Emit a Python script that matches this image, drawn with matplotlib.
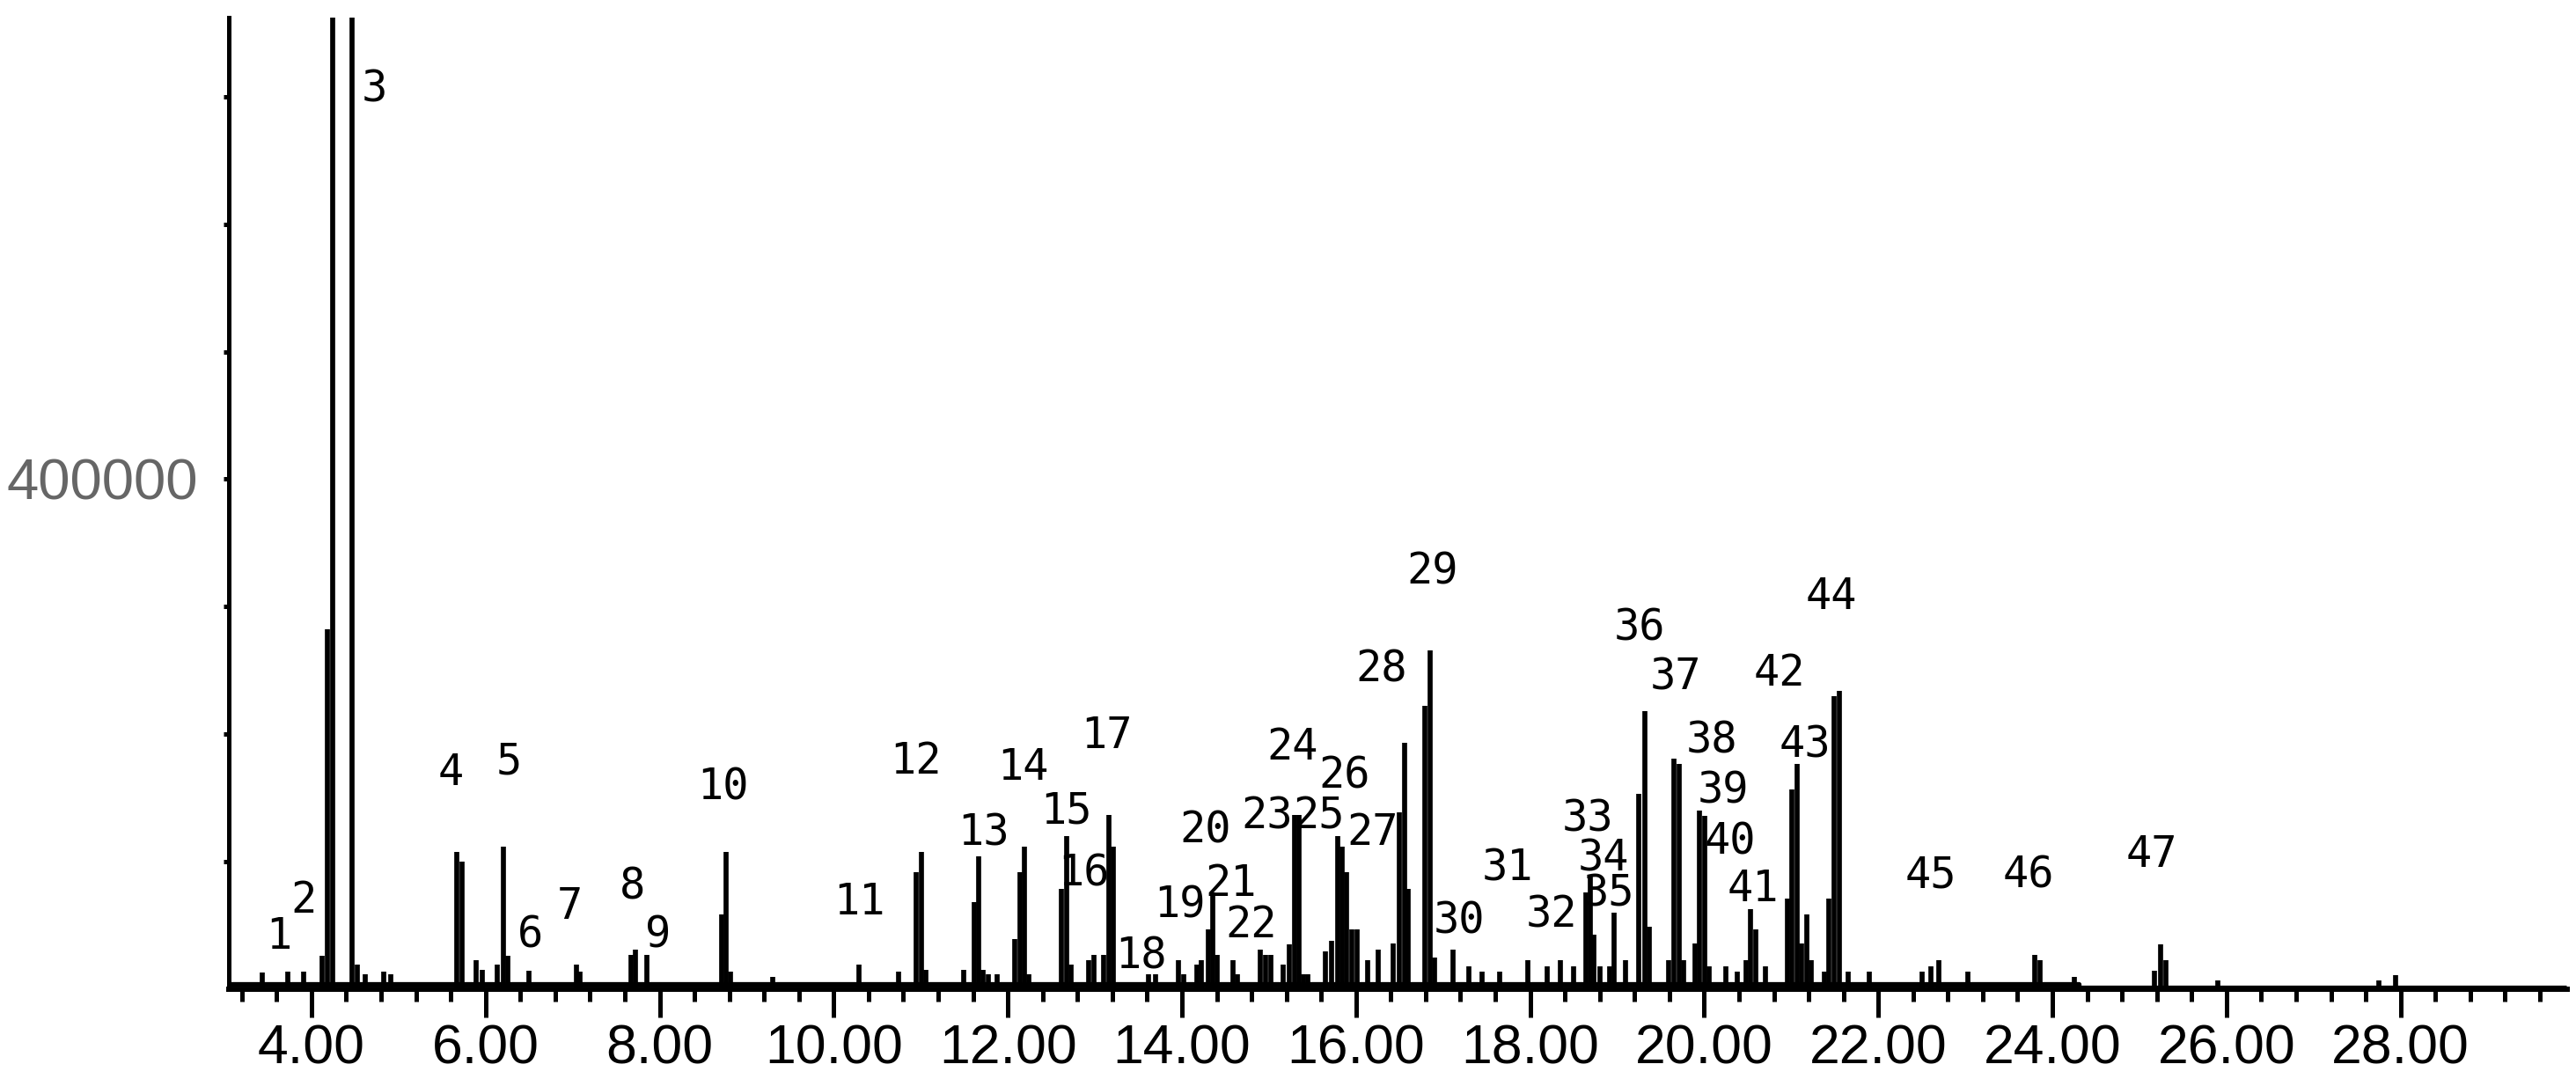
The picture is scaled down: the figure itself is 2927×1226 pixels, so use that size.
import numpy as np
import matplotlib
matplotlib.use("Agg")
import matplotlib.pyplot as plt
from matplotlib import font_manager
from matplotlib.ticker import MultipleLocator, FormatStrFormatter

# retention time (min) and abundance of each sample spike
peak_rt = [3.43, 3.73, 3.91, 4.12, 4.18, 4.24, 4.47, 4.53, 4.62, 4.83, 4.91,
           5.67, 5.73, 5.89, 5.96, 6.13, 6.21, 6.26, 6.50, 7.04, 7.08,
           7.67, 7.72, 7.85, 8.71, 8.76, 8.81, 9.30, 10.29, 10.74,
           10.95, 11.01, 11.06, 11.49, 11.61, 11.67, 11.72, 11.78, 11.88,
           12.08, 12.14, 12.19, 12.24, 12.62, 12.68, 12.73, 12.93, 12.99, 13.10,
           13.16, 13.21, 13.62, 13.70, 13.96, 14.02, 14.17, 14.22,
           14.30, 14.35, 14.40, 14.59, 14.64, 14.90, 14.96, 15.02, 15.16, 15.23,
           15.29, 15.35, 15.40, 15.45, 15.65, 15.72, 15.79, 15.84, 15.89, 15.95,
           16.01, 16.13, 16.26, 16.43, 16.50, 16.56, 16.60, 16.79, 16.85, 16.90,
           17.11, 17.30, 17.45, 17.65, 17.97, 18.20, 18.35, 18.50,
           18.64, 18.69, 18.73, 18.80, 18.91, 18.96, 19.10, 19.25, 19.32, 19.37,
           19.59, 19.65, 19.71, 19.76, 19.89, 19.95, 20.01, 20.06, 20.25, 20.38,
           20.48, 20.53, 20.59, 20.70, 20.96, 21.01, 21.07, 21.12, 21.18, 21.23,
           21.38, 21.43, 21.49, 21.55, 21.65, 21.90, 22.50, 22.60, 22.70, 23.03,
           23.80, 23.86, 24.25, 25.17, 25.24, 25.30, 25.90, 27.75, 27.94]
peak_int = [13000, 14000, 14000, 26000, 282000, 1500000, 1500000, 19000, 12000, 14000, 12000,
            108000, 100000, 23000, 15000, 19000, 112000, 26000, 14500, 19000, 14000,
            27000, 31000, 27000, 59000, 108000, 14000, 10000, 19000, 14000,
            92000, 108000, 15000, 15000, 68000, 104000, 15000, 12000, 12000,
            39000, 92000, 112000, 12000, 79000, 120000, 19000, 23000, 27000, 27000,
            137000, 112000, 12000, 12000, 23000, 12000, 19000, 23000,
            47000, 76000, 27000, 23000, 12000, 31000, 27000, 27000, 19000, 35000,
            137000, 137000, 12000, 12000, 30000, 38000, 120000, 112000, 92000, 47000,
            47000, 23000, 31000, 36000, 139000, 193000, 79000, 222000, 266000, 25000,
            31000, 18000, 14000, 14000, 23000, 18000, 23000, 18000,
            76000, 88000, 43000, 18000, 18000, 60000, 23000, 153000, 218000, 49000,
            23000, 181000, 177000, 23000, 36000, 140000, 136000, 18000, 18000, 14000,
            23000, 63000, 47000, 18000, 71000, 157000, 177000, 36000, 59000, 23000,
            14000, 71000, 230000, 234000, 14000, 14000, 14000, 18000, 23000, 14000,
            27000, 23000, 10000, 14500, 35000, 23000, 7000, 7000, 11000]

# baseline drift
base_rt = [3.05, 24.3, 24.3, 29.9]
base_int = [4000, 4000, 1500, 1500]

# peak numbers and where their labels sit (rt, abundance at the digit baseline)
label_num = list(range(1, 48))
label_rt = [3.63, 3.91, 4.72, 5.60, 6.27, 6.51, 6.97, 7.69, 7.98, 8.73,
            10.29, 10.94, 11.72, 12.17, 12.67, 12.87, 13.14, 13.53, 13.97, 14.27,
            14.56, 14.80, 14.98, 15.27, 15.57, 15.87, 16.19, 16.29, 16.88, 17.18,
            17.74, 18.25, 18.66, 18.84, 18.90, 19.26, 19.67, 20.09, 20.22, 20.30,
            20.56, 20.86, 21.16, 21.46, 22.60, 23.73, 25.14]
label_int = [32000, 60000, 696000, 160000, 169000, 33000, 55000, 71000, 33000, 149000,
             59000, 169000, 113000, 164000, 130000, 81000, 189000, 16000, 56000, 115000,
             73000, 41000, 126000, 180000, 126000, 158000, 113000, 241000, 318000, 44000,
             85000, 49000, 124000, 93000, 65000, 274000, 235000, 185000, 146000, 106000,
             69000, 238000, 182000, 298000, 80000, 80000, 96000]

y_ticks = [100000, 200000, 300000, 400000, 500000, 600000, 700000]
y_ticklabels = ["", "", "", "400000", "", "", ""]

installed = {f.name for f in font_manager.fontManager.ttflist}
if "Liberation Sans Narrow" in installed:
    tick_font, tick_size = "Liberation Sans Narrow", 52
else:
    tick_font, tick_size = "Liberation Sans", 45

fig = plt.figure(figsize=(29.27, 12.26), dpi=100)
ax = fig.add_axes([0.0888, 0.0832, 0.9078, 0.9005])

ax.vlines(peak_rt, 0, peak_int, colors="black", linewidth=4.1)
ax.plot(base_rt, base_int, color="black", linewidth=3.8, solid_capstyle="butt")

for n, x, y in zip(label_num, label_rt, label_int):
    ax.text(x, y, str(n), ha="center", va="baseline",
            family="DejaVu Sans Mono", fontsize=35, color="black")

ax.set_xlim(3.05, 29.915)
ax.set_ylim(0, 762000)

ax.spines["top"].set_visible(False)
ax.spines["right"].set_visible(False)
ax.spines["bottom"].set_linewidth(4.3)
ax.spines["left"].set_linewidth(3.6)

ax.xaxis.set_major_locator(MultipleLocator(2.0))
ax.xaxis.set_minor_locator(MultipleLocator(0.4))
ax.xaxis.set_major_formatter(FormatStrFormatter("%.2f"))
ax.tick_params(axis="x", which="major", direction="out", length=23, width=3.6,
               pad=5, labelsize=tick_size)
ax.tick_params(axis="x", which="minor", direction="out", length=10, width=3.6)
for lab in ax.get_xticklabels():
    lab.set_family(tick_font)

ax.set_yticks(y_ticks)
ax.set_yticklabels(y_ticklabels, family="Liberation Sans", fontsize=47, color="#666666")
ax.tick_params(axis="y", which="major", direction="out", length=4.3, width=3.6, pad=21)

fig.savefig("out.png", dpi=100, facecolor="white")
